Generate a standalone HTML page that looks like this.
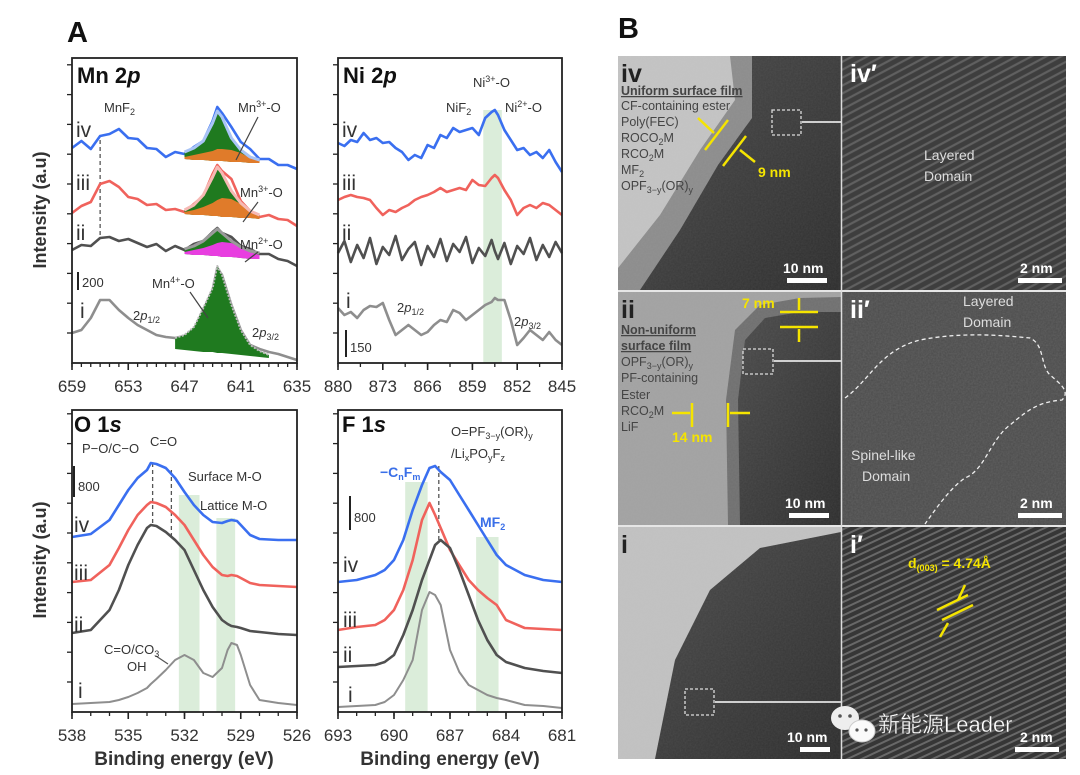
<!DOCTYPE html>
<html><head><meta charset="utf-8">
<style>
html,body{margin:0;padding:0;background:#fff;}
svg{display:block;font-family:"Liberation Sans","Noto Sans CJK SC",sans-serif;}
.tk{font-size:17px;fill:#333;text-anchor:middle;}
.ann{font-size:13px;fill:#333;}
.rom{font-size:21px;fill:#333;font-family:"Liberation Sans",sans-serif;}
.bt{font-size:12.5px;fill:#444;}
</style></head>
<body>
<svg id="fig" width="1080" height="775" viewBox="0 0 1080 775">
<defs>
  <pattern id="stripes" width="7" height="7" patternUnits="userSpaceOnUse" patternTransform="rotate(-28)">
    <rect width="7" height="7" fill="none"/>
    <line x1="0" y1="2" x2="7" y2="2" stroke="#8a8a8a" stroke-width="2.2" opacity="0.45"/>
  </pattern>
  <pattern id="stripes2" width="6" height="6" patternUnits="userSpaceOnUse" patternTransform="rotate(-25)">
    <line x1="0" y1="2" x2="6" y2="2" stroke="#9a9a9a" stroke-width="2" opacity="0.5"/>
  </pattern>
  <filter id="noise" x="0" y="0" width="100%" height="100%">
    <feTurbulence type="fractalNoise" baseFrequency="0.6" numOctaves="2" result="n"/>
    <feColorMatrix type="matrix" values="0 0 0 0 0.5  0 0 0 0 0.5  0 0 0 0 0.5  0 0 0 0.35 0"/>
    <feComposite in2="SourceGraphic" operator="in"/>
  </filter>
  <linearGradient id="darkg" x1="0" y1="0" x2="1" y2="1">
    <stop offset="0" stop-color="#4a4a4a"/><stop offset="1" stop-color="#2c2c2c"/>
  </linearGradient>
</defs>

<!-- Panel A labels -->
<text x="67" y="42" font-size="29" font-weight="bold" fill="#111">A</text>
<text x="618" y="38" font-size="29" font-weight="bold" fill="#111">B</text>

<text transform="translate(46,210) rotate(-90)" font-size="18" font-weight="bold" fill="#333" text-anchor="middle">Intensity (a.u)</text>
<text transform="translate(46,560) rotate(-90)" font-size="18" font-weight="bold" fill="#333" text-anchor="middle">Intensity (a.u)</text>

<g id="charts"></g>

<!-- Mn annotations -->
<g>
<text x="77" y="83" font-size="22" font-weight="bold" fill="#111">Mn 2<tspan font-style="italic">p</tspan></text>
<text class="rom" x="76" y="137">iv</text>
<text class="rom" x="76" y="190">iii</text>
<text class="rom" x="76" y="240">ii</text>
<text class="rom" x="80" y="318">i</text>
<text class="ann" x="104" y="112">MnF<tspan font-size="9" dy="3">2</tspan></text>
<text class="ann" x="238" y="112">Mn<tspan font-size="9" dy="-5">3+</tspan><tspan dy="5">-O</tspan></text>
<line x1="258" y1="117" x2="236" y2="160" stroke="#444" stroke-width="1.2"/>
<text class="ann" x="240" y="197">Mn<tspan font-size="9" dy="-5">3+</tspan><tspan dy="5">-O</tspan></text>
<line x1="258" y1="202" x2="243" y2="222" stroke="#444" stroke-width="1.2"/>
<text class="ann" x="240" y="249">Mn<tspan font-size="9" dy="-5">2+</tspan><tspan dy="5">-O</tspan></text>
<line x1="258" y1="252" x2="245" y2="262" stroke="#444" stroke-width="1.2"/>
<text class="ann" x="152" y="288">Mn<tspan font-size="9" dy="-5">4+</tspan><tspan dy="5">-O</tspan></text>
<line x1="190" y1="292" x2="208" y2="318" stroke="#444" stroke-width="1.2"/>
<text class="ann" x="133" y="320" font-size="14">2<tspan font-style="italic">p</tspan><tspan font-size="9" dy="3">1/2</tspan></text>
<text class="ann" x="252" y="337" font-size="14">2<tspan font-style="italic">p</tspan><tspan font-size="9" dy="3">3/2</tspan></text>
<line x1="78" y1="272" x2="78" y2="290" stroke="#222" stroke-width="2"/>
<text class="ann" x="82" y="287" font-size="12">200</text>
</g>
<!-- Ni annotations -->
<g>
<text x="343" y="83" font-size="22" font-weight="bold" fill="#111">Ni 2<tspan font-style="italic">p</tspan></text>
<text class="rom" x="342" y="137">iv</text>
<text class="rom" x="342" y="190">iii</text>
<text class="rom" x="342" y="240">ii</text>
<text class="rom" x="346" y="308">i</text>
<text class="ann" x="473" y="87">Ni<tspan font-size="9" dy="-5">3+</tspan><tspan dy="5">-O</tspan></text>
<text class="ann" x="446" y="112">NiF<tspan font-size="9" dy="3">2</tspan></text>
<text class="ann" x="505" y="112">Ni<tspan font-size="9" dy="-5">2+</tspan><tspan dy="5">-O</tspan></text>
<text class="ann" x="397" y="312" font-size="14">2<tspan font-style="italic">p</tspan><tspan font-size="9" dy="3">1/2</tspan></text>
<text class="ann" x="514" y="326" font-size="14">2<tspan font-style="italic">p</tspan><tspan font-size="9" dy="3">3/2</tspan></text>
<line x1="346" y1="330" x2="346" y2="357" stroke="#222" stroke-width="2"/>
<text class="ann" x="350" y="352" font-size="12">150</text>
</g>
<!-- O annotations -->
<g>
<text x="74" y="432" font-size="22" font-weight="bold" fill="#111">O 1<tspan font-style="italic">s</tspan></text>
<text class="rom" x="74" y="532">iv</text>
<text class="rom" x="74" y="580">iii</text>
<text class="rom" x="74" y="632">ii</text>
<text class="rom" x="78" y="698">i</text>
<text class="ann" x="82" y="453">P−O/C−O</text>
<text class="ann" x="150" y="446">C=O</text>
<text class="ann" x="188" y="481">Surface M-O</text>
<text class="ann" x="200" y="510">Lattice M-O</text>
<text class="ann" x="104" y="654">C=O/CO<tspan font-size="9" dy="3">3</tspan></text>
<text class="ann" x="127" y="671">OH</text>
<line x1="74" y1="466" x2="74" y2="497" stroke="#222" stroke-width="2"/>
<text class="ann" x="78" y="491" font-size="12">800</text>
</g>
<!-- F annotations -->
<g>
<text x="342" y="432" font-size="22" font-weight="bold" fill="#111">F 1<tspan font-style="italic">s</tspan></text>
<text class="rom" x="343" y="572">iv</text>
<text class="rom" x="343" y="627">iii</text>
<text class="rom" x="343" y="662">ii</text>
<text class="rom" x="348" y="702">i</text>
<text class="ann" x="451" y="436">O=PF<tspan font-size="9" dy="3">3−y</tspan><tspan dy="-3">(OR)</tspan><tspan font-size="9" dy="3">y</tspan></text>
<text class="ann" x="451" y="458">/Li<tspan font-size="9" dy="3">x</tspan><tspan dy="-3">PO</tspan><tspan font-size="9" dy="3">y</tspan><tspan dy="-3">F</tspan><tspan font-size="9" dy="3">z</tspan></text>
<text x="380" y="477" font-size="14" font-weight="bold" fill="#3a6fe8">−C<tspan font-size="9" dy="3">n</tspan><tspan dy="-3">F</tspan><tspan font-size="9" dy="3">m</tspan></text>
<text x="480" y="527" font-size="14" font-weight="bold" fill="#3a6fe8">MF<tspan font-size="9" dy="3">2</tspan></text>
<line x1="350" y1="496" x2="350" y2="530" stroke="#222" stroke-width="2"/>
<text class="ann" x="354" y="522" font-size="12">800</text>
</g>
<text x="184" y="765" font-size="19" font-weight="bold" fill="#333" text-anchor="middle">Binding energy (eV)</text>
<text x="450" y="765" font-size="19" font-weight="bold" fill="#333" text-anchor="middle">Binding energy (eV)</text>

<!-- Panel B -->
<g>
  <rect x="618" y="56" width="223" height="234" fill="#c4c4c4"/>
  <path d="M730,56 L841,56 L841,290 L618,290 L618,268 L660,215 L700,150 L735,100 Z" fill="#8c8c8c"/>
  <path d="M752,56 L841,56 L841,290 L640,290 L680,230 L718,165 L752,118 Z" fill="url(#darkg)"/>
  <rect x="618" y="56" width="223" height="234" fill="#000" filter="url(#noise)" opacity="0.35"/>
  <text x="621" y="82" font-size="25" font-weight="bold" fill="#222">iv</text>
  <text class="bt" x="621" y="95" font-weight="bold" text-decoration="underline" fill="#333">Uniform surface film</text>
  <text class="bt" x="621" y="110">CF-containing ester</text>
  <text class="bt" x="621" y="126">Poly(FEC)</text>
  <text class="bt" x="621" y="142">ROCO<tspan font-size="9" dy="3">2</tspan><tspan dy="-3">M</tspan></text>
  <text class="bt" x="621" y="158">RCO<tspan font-size="9" dy="3">2</tspan><tspan dy="-3">M</tspan></text>
  <text class="bt" x="621" y="174">MF<tspan font-size="9" dy="3">2</tspan></text>
  <text class="bt" x="621" y="190">OPF<tspan font-size="9" dy="3">3−y</tspan><tspan dy="-3">(OR)</tspan><tspan font-size="9" dy="3">y</tspan></text>
  <line x1="705" y1="150" x2="728" y2="120" stroke="#f5e400" stroke-width="2.5"/>
  <line x1="723" y1="166" x2="746" y2="136" stroke="#f5e400" stroke-width="2.5"/>
  <line x1="698" y1="118" x2="714" y2="133" stroke="#f5e400" stroke-width="2.5"/>
  <line x1="755" y1="162" x2="740" y2="150" stroke="#f5e400" stroke-width="2.5"/>
  <text x="758" y="177" font-size="14" font-weight="bold" fill="#f5e400">9 nm</text>
  <rect x="772" y="110" width="29" height="25" fill="none" stroke="#ddd" stroke-width="1.3" stroke-dasharray="3,2"/>
  <line x1="802" y1="122" x2="852" y2="122" stroke="#fff" stroke-width="1.5"/>
  <path d="M860,122 L848,117 L848,127 Z" fill="#fff"/>
  <text x="783" y="273" font-size="14" font-weight="bold" fill="#fff">10 nm</text>
  <rect x="787" y="278" width="40" height="5" fill="#fff"/>
</g>
<g>
  <rect x="842" y="56" width="224" height="234" fill="#3e3e3e"/>
  <rect x="842" y="56" width="224" height="234" fill="url(#stripes)"/>
  <text x="850" y="82" font-size="25" font-weight="bold" fill="#fff">iv′</text>
  <text x="924" y="160" font-size="14" fill="#ddd">Layered</text>
  <text x="924" y="181" font-size="14" fill="#ddd">Domain</text>
  <text x="1020" y="273" font-size="14" font-weight="bold" fill="#fff">2 nm</text>
  <rect x="1018" y="278" width="44" height="5" fill="#fff"/>
</g>
<g>
  <rect x="618" y="292" width="223" height="233" fill="#a2a2a2"/>
  <path d="M728,525 L726,400 L735,330 L760,305 L800,298 L841,297 L841,525 Z" fill="#6f6f6f"/>
  <path d="M740,525 L738,400 L745,340 L765,318 L800,312 L841,312 L841,525 Z" fill="url(#darkg)"/>
  <rect x="618" y="292" width="223" height="233" fill="#000" filter="url(#noise)" opacity="0.35"/>
  <text x="621" y="318" font-size="25" font-weight="bold" fill="#222">ii</text>
  <text class="bt" x="621" y="334" font-weight="bold" text-decoration="underline" fill="#333">Non-uniform</text>
  <text class="bt" x="621" y="350" font-weight="bold" text-decoration="underline" fill="#333">surface film</text>
  <text class="bt" x="621" y="366">OPF<tspan font-size="9" dy="3">3−y</tspan><tspan dy="-3">(OR)</tspan><tspan font-size="9" dy="3">y</tspan></text>
  <text class="bt" x="621" y="382">PF-containing</text>
  <text class="bt" x="621" y="399">Ester</text>
  <text class="bt" x="621" y="415">RCO<tspan font-size="9" dy="3">2</tspan><tspan dy="-3">M</tspan></text>
  <text class="bt" x="621" y="431">LiF</text>
  <text x="742" y="308" font-size="14" font-weight="bold" fill="#f5e400">7 nm</text>
  <line x1="780" y1="312" x2="818" y2="312" stroke="#f5e400" stroke-width="2.5"/>
  <line x1="780" y1="327" x2="818" y2="327" stroke="#f5e400" stroke-width="2.5"/>
  <line x1="799" y1="298" x2="799" y2="310" stroke="#f5e400" stroke-width="2.5"/>
  <line x1="799" y1="329" x2="799" y2="342" stroke="#f5e400" stroke-width="2.5"/>
  <line x1="692" y1="403" x2="692" y2="427" stroke="#f5e400" stroke-width="2.5"/>
  <line x1="728" y1="403" x2="728" y2="427" stroke="#f5e400" stroke-width="2.5"/>
  <line x1="672" y1="413" x2="690" y2="413" stroke="#f5e400" stroke-width="2.5"/>
  <line x1="730" y1="413" x2="750" y2="413" stroke="#f5e400" stroke-width="2.5"/>
  <text x="672" y="442" font-size="14" font-weight="bold" fill="#f5e400">14 nm</text>
  <rect x="743" y="349" width="30" height="25" fill="none" stroke="#ddd" stroke-width="1.3" stroke-dasharray="3,2"/>
  <line x1="774" y1="361" x2="852" y2="361" stroke="#fff" stroke-width="1.5"/>
  <path d="M860,361 L848,356 L848,366 Z" fill="#fff"/>
  <text x="785" y="508" font-size="14" font-weight="bold" fill="#fff">10 nm</text>
  <rect x="789" y="513" width="40" height="5" fill="#fff"/>
</g>
<g>
  <rect x="842" y="292" width="224" height="233" fill="#4a4a4a"/>
  <rect x="842" y="292" width="224" height="233" fill="#000" filter="url(#noise)" opacity="0.6"/>
  <text x="850" y="318" font-size="25" font-weight="bold" fill="#fff">ii′</text>
  <text x="963" y="306" font-size="14" fill="#ddd">Layered</text>
  <text x="963" y="327" font-size="14" fill="#ddd">Domain</text>
  <path d="M845,398 C870,380 880,350 920,340 C960,332 1000,335 1030,338 C1045,345 1040,365 1050,375 C1062,385 1070,392 1062,400 C1040,402 1030,408 1010,425 C990,440 985,470 965,478 C950,488 935,510 925,524" fill="none" stroke="#eee" stroke-width="1.3" stroke-dasharray="4,3"/>
  <text x="851" y="460" font-size="14" fill="#ddd">Spinel-like</text>
  <text x="862" y="481" font-size="14" fill="#ddd">Domain</text>
  <text x="1020" y="508" font-size="14" font-weight="bold" fill="#fff">2 nm</text>
  <rect x="1018" y="513" width="44" height="5" fill="#fff"/>
</g>
<g>
  <rect x="618" y="527" width="223" height="232" fill="#c2c2c2"/>
  <path d="M655,759 L675,660 L710,590 L760,548 L841,532 L841,759 Z" fill="url(#darkg)"/>
  <rect x="618" y="527" width="223" height="232" fill="#000" filter="url(#noise)" opacity="0.35"/>
  <text x="621" y="553" font-size="25" font-weight="bold" fill="#222">i</text>
  <rect x="685" y="689" width="29" height="26" fill="none" stroke="#ddd" stroke-width="1.3" stroke-dasharray="3,2"/>
  <line x1="715" y1="702" x2="852" y2="702" stroke="#fff" stroke-width="1.5"/>
  <path d="M860,702 L848,697 L848,707 Z" fill="#fff"/>
  <text x="787" y="742" font-size="14" font-weight="bold" fill="#fff">10 nm</text>
  <rect x="800" y="747" width="30" height="5" fill="#fff"/>
</g>
<g>
  <rect x="842" y="527" width="224" height="232" fill="#363636"/>
  <rect x="842" y="527" width="224" height="232" fill="url(#stripes2)"/>
  <text x="850" y="553" font-size="25" font-weight="bold" fill="#fff">i′</text>
  <text x="908" y="568" font-size="14" font-weight="bold" fill="#f5e400">d<tspan font-size="9" dy="3">(003)</tspan><tspan dy="-3"> = 4.74Å</tspan></text>
  <line x1="937" y1="610" x2="968" y2="595" stroke="#f5e400" stroke-width="2.5"/>
  <line x1="942" y1="620" x2="973" y2="605" stroke="#f5e400" stroke-width="2.5"/>
  <line x1="965" y1="585" x2="958" y2="600" stroke="#f5e400" stroke-width="2.5"/>
  <line x1="940" y1="637" x2="948" y2="623" stroke="#f5e400" stroke-width="2.5"/>
  <text x="1020" y="742" font-size="14" font-weight="bold" fill="#fff">2 nm</text>
  <rect x="1015" y="747" width="44" height="5" fill="#fff"/>
</g>
<line x1="841.5" y1="56" x2="841.5" y2="759" stroke="#ddd" stroke-width="1.5"/>
<line x1="618" y1="291" x2="1066" y2="291" stroke="#ddd" stroke-width="1.5"/>
<line x1="618" y1="526" x2="1066" y2="526" stroke="#ddd" stroke-width="1.5"/>
<g>
  <ellipse cx="845" cy="718" rx="14" ry="12" fill="#eee"/>
  <ellipse cx="862" cy="731" rx="13" ry="11" fill="#fafafa" stroke="#ccc"/>
  <circle cx="840" cy="716" r="1.8" fill="#555"/><circle cx="850" cy="716" r="1.8" fill="#555"/>
  <circle cx="857" cy="730" r="1.6" fill="#555"/><circle cx="866" cy="730" r="1.6" fill="#555"/>
  <text x="878" y="732" font-size="22" fill="#fff" font-family="'Liberation Sans','Noto Sans CJK SC',sans-serif" stroke="#555" stroke-width="0.4">新能源Leader</text>
</g>
</svg>

<script>
const NS = 'http://www.w3.org/2000/svg';
// ---- Mn 2p data (binding energy, intensity counts) ----
const mnEnergy = [659,658,657,656,655,654,653,652,651,650,649,648,647,646,645,644,643.5,643,642,641,640,639,638,637,636,635];
const mnIV  = [215,222,214,227,229,234,225,224,215,214,206,211,209,216,222,242,256,250,236,221,214,204,204,198,198,194];
const mnIII = [150,157,161,179,182,176,166,164,158,159,153,154,151,159,167,189,198,192,184,162,152,146,148,144,143,137];
const mnII  = [113,118,117,125,126,122,124,120,116,119,112,117,113,119,122,131,135,130,126,117,114,109,109,104,102,97];
const mnI   = [30,33,45,63,63,53,45,38,33,28,26,25,27,33,53,73,95,88,58,33,18,14,11,9,6,3];
const mnFitEnergy = [647,646,645,644,643.5,643,642,641,640,639];
const mnFitIV  = [211,215,222,240,252,246,225,213,206,203];
const mnOrgIV  = [206,208,210,212,214,214,213,210,205,202];
const mnBaseIV = [204,203,203,202,202,202,201,201,200,200];
const mnFitIII = [153,158,168,186,196,190,172,160,152,148];
const mnOrgIII = [151,153,156,160,163,165,164,159,151,147];
const mnBaseIII= [149,148,148,147,147,146,146,145,145,144];
const mnFitII  = [114,117,122,130,134,130,122,116,112,110];
const mnMagII  = [111,113,115,118,120,121,120,116,111,108];
const mnBaseII = [109,108,108,107,107,106,106,105,104,104];
const mnFitEnergyI = [648,647,646,645,644,643.5,643,642,641,640,639,638];
const mnFitI  = [25,28,36,55,75,97,88,58,33,18,12,8];
const mnBaseI = [14,13,12,11,11,10,10,9,8,7,6,5];
// ---- Ni 2p ----
const niEnergy = [880,879,878,877,876,875,874,873,872,871,870,869,868,867,866,865,864,863,862,861,860,859,858,857,856,855.5,855,854,853,852,851,850,849,848,847,846,845];
const niIV  = [220,217,223,221,230,223,225,220,221,215,211,203,208,205,218,215,228,225,235,231,233,235,228,245,251,253,248,233,223,213,215,208,211,205,213,201,191];
const niIII = [163,166,168,166,165,163,155,148,153,151,155,158,163,166,168,171,175,171,173,175,173,183,178,177,185,188,185,173,163,148,155,158,155,160,158,153,148];
const niII  = [110,122,101,118,105,125,99,116,108,127,103,114,121,98,117,106,124,102,119,111,126,100,115,107,123,112,104,120,99,117,109,125,103,118,106,121,110];
const niI   = [55,48,51,45,53,57,56,60,43,28,33,38,33,28,31,38,43,41,53,50,43,48,53,58,61,65,63,63,43,18,25,33,28,23,31,23,18];
const niBand = [857.3, 854.4];
// ---- O 1s ----
const oEnergy = [538,537,536,535.5,535,534.5,534,533.8,533.5,533,532.5,532,531.5,531,530.5,530,529.7,529.5,529.2,529,528.5,528,527,526];
const oIV  = [175,178,192,207,222,234,242,249,248,244,234,220,207,197,190,189,191,192,191,187,177,173,172,172];
const oIII = [130,132,147,164,182,197,207,210,209,205,197,187,172,157,145,137,136,137,136,134,129,127,126,125];
const oII  = [79,82,102,122,147,167,184,187,186,180,172,162,142,122,105,92,88,86,85,84,81,80,78,77];
const oI   = [8,9,10,12,15,19,24,28,33,42,52,57,52,39,35,44,62,69,67,57,27,12,9,7];
const oBands = [[532.3,531.2,217],[530.3,529.3,194]];
const oDashes = [[533.7,249,187],[532.7,242,172]];
// ---- F 1s ----
const fEnergy = [693,692,691,690.5,690,689.5,689,688.5,688.1,687.8,687.5,687,686.5,686,685.5,685,684.5,684,683,682,681];
const fIV  = [130,132,137,142,152,172,202,227,244,246,240,232,217,202,187,172,157,147,137,132,130];
const fIII = [82,85,87,92,102,122,152,192,209,197,184,162,147,132,122,114,107,92,84,83,82];
const fII  = [45,46,47,50,57,77,102,132,152,167,172,164,142,117,92,72,57,50,44,41,39];
const fI   = [5,6,7,10,17,32,52,102,120,117,107,62,40,27,22,17,14,12,7,6,4];
const fBands = [[689.4,688.2,230],[685.6,684.4,175]];
const fDashes = [[687.6,246,172]];
// tick labels
const mnTicks = [659,653,647,641,635];
const niTicks = [880,873,866,859,852,845];
const oTicks = [538,535,532,529,526];
const fTicks = [693,690,687,684,681];

const colBlue='#3a6ff0', colRed='#f0625c', colDark='#505050', colLight='#8e8e8e';
const root = document.getElementById('charts');
function mk(tag, attrs, parent){
  const e = document.createElementNS(NS, tag);
  for (const k in attrs) e.setAttribute(k, attrs[k]);
  parent.appendChild(e);
  return e;
}
function makePanel(name, x0, x1, top, bottom, dmax, dmin, ticks, minorStep){
  const p = {x0,x1,top,bottom,dmax,dmin};
  p.x = e => x0 + (dmax - e) / (dmax - dmin) * (x1 - x0);
  p.y = v => bottom - v;
  const g = mk('g', {}, root);
  
  
  p.g = g;
  p.plot = mk('g', {}, g);
  // frame
  const fr = mk('rect', {x:x0, y:top, width:x1-x0, height:bottom-top, fill:'none', stroke:'#222', 'stroke-width':1.8}, g);
  
  
  // minor ticks
  for (let e = dmax; e >= dmin - 1e-6; e -= minorStep){
    const t = mk('line', {x1:p.x(e), x2:p.x(e), y1:bottom, y2:bottom+4, stroke:'#222', 'stroke-width':1.3}, g);
    
    
  }
  ticks.forEach(v => {
    const t = mk('line', {x1:p.x(v), x2:p.x(v), y1:bottom, y2:bottom+7, stroke:'#222', 'stroke-width':1.6}, g);
    
    
    const l = mk('text', {x:p.x(v), y:bottom+29, class:'tk'}, g);
    l.textContent = v;
    
    
  });
  for (let yy = bottom - 30; yy > top + 3; yy -= 29.8){
    const t = mk('line', {x1:x0-5, x2:x0, y1:yy, y2:yy, stroke:'#222', 'stroke-width':1.3}, g);
    
    
  }
  return p;
}
function line(p, xs, ys, color, w, name, extra){
  const pts = xs.map((e,i) => p.x(e).toFixed(1) + ',' + p.y(ys[i]).toFixed(1)).join(' ');
  const el = mk('polyline', Object.assign({points:pts, fill:'none', stroke:color, 'stroke-width':w, 'stroke-linejoin':'round'}, extra||{}), p.plot);
  
  
  return el;
}
function area(p, xs, topV, baseV, color, name){
  const a = xs.map((e,i) => p.x(e).toFixed(1) + ',' + p.y(topV[i]).toFixed(1));
  const b = xs.map((e,i) => p.x(e).toFixed(1) + ',' + p.y(baseV[i]).toFixed(1)).reverse();
  const el = mk('polygon', {points:a.concat(b).join(' '), fill:color}, p.plot);
  
  
  return el;
}
function band(p, e1, e2, vTop, name){
  const el = mk('rect', {x:p.x(e1), y:p.y(vTop), width:p.x(e2)-p.x(e1), height:vTop, fill:'#d5ead3', opacity:0.85}, p.plot);
  
  
}
function dash(p, e, v1, v2, name){
  const el = mk('line', {x1:p.x(e), x2:p.x(e), y1:p.y(v1), y2:p.y(v2), stroke:'#555', 'stroke-width':1.3, 'stroke-dasharray':'4,3'}, p.plot);
  
  
}

// Mn panel
const mn = makePanel('mn-2p', 72, 297, 58, 363, 659, 635, mnTicks, 1);
dash(mn, 656, 223, 128, 'mnf2-dashed-line');
line(mn, mnEnergy, mnIV, colBlue, 2.6, 'mn-series-iv');
area(mn, mnFitEnergy, mnFitIV, mnBaseIV, '#1f7a1f', 'mn-iv-mn3-fit');
area(mn, mnFitEnergy, mnOrgIV, mnBaseIV, '#e07b2a', 'mn-iv-mn4-fit');
line(mn, mnFitEnergy, mnFitIV, '#a9c4f5', 3, 'mn-iv-envelope');
line(mn, mnEnergy, mnIII, colRed, 2.6, 'mn-series-iii');
area(mn, mnFitEnergy, mnFitIII, mnBaseIII, '#1f7a1f', 'mn-iii-mn3-fit');
area(mn, mnFitEnergy, mnOrgIII, mnBaseIII, '#e07b2a', 'mn-iii-mn4-fit');
line(mn, mnFitEnergy, mnFitIII, '#f6b9b4', 3, 'mn-iii-envelope');
line(mn, mnEnergy, mnII, colDark, 2.6, 'mn-series-ii');
area(mn, mnFitEnergy, mnFitII, mnBaseII, '#1f7a1f', 'mn-ii-mn3-fit');
area(mn, mnFitEnergy, mnMagII, mnBaseII, '#e83ee0', 'mn-ii-mn2-fit');
line(mn, mnFitEnergy, mnFitII, '#9a9a9a', 3, 'mn-ii-envelope');
line(mn, mnEnergy, mnI, colLight, 2.6, 'mn-series-i');
area(mn, mnFitEnergyI, mnFitI, mnBaseI, '#1f7a1f', 'mn-i-mn4-fit');
line(mn, mnFitEnergyI, mnFitI, '#bbbbbb', 2, 'mn-i-envelope', {'stroke-dasharray':'2,1.5'});

// Ni panel
const ni = makePanel('ni-2p', 338, 562, 58, 363, 880, 845, niTicks, 3.5);
band(ni, niBand[0], niBand[1], 253, 'ni3-highlight-band');
line(ni, niEnergy, niIV, colBlue, 2.6, 'ni-series-iv');
line(ni, niEnergy, niIII, colRed, 2.6, 'ni-series-iii');
line(ni, niEnergy, niII, colDark, 2.6, 'ni-series-ii');
line(ni, niEnergy, niI, colLight, 2.6, 'ni-series-i');

// O panel
const op = makePanel('o-1s', 72, 297, 410, 712, 538, 526, oTicks, 1);
oBands.forEach((b,i) => band(op, b[0], b[1], b[2], 'o-highlight-band-' + i));
oDashes.forEach((d,i) => dash(op, d[0], d[1], d[2], 'o-peak-dashed-line-' + i));
line(op, oEnergy, oIV, colBlue, 2.6, 'o-series-iv');
line(op, oEnergy, oIII, colRed, 2.6, 'o-series-iii');
line(op, oEnergy, oII, colDark, 2.6, 'o-series-ii');
line(op, oEnergy, oI, colLight, 2, 'o-series-i');
const oLead = mk('line', {x1:156, y1:656, x2:168, y2:664, stroke:'#555', 'stroke-width':1.2}, op.plot);



// F panel
const fp = makePanel('f-1s', 338, 562, 410, 712, 693, 681, fTicks, 1);
fBands.forEach((b,i) => band(fp, b[0], b[1], b[2], 'f-highlight-band-' + i));
fDashes.forEach((d,i) => dash(fp, d[0], d[1], d[2], 'f-peak-dashed-line-' + i));
line(fp, fEnergy, fIV, colBlue, 2.6, 'f-series-iv');
line(fp, fEnergy, fIII, colRed, 2.6, 'f-series-iii');
line(fp, fEnergy, fII, colDark, 2.6, 'f-series-ii');
line(fp, fEnergy, fI, colLight, 2, 'f-series-i');
</script>
</body></html>
